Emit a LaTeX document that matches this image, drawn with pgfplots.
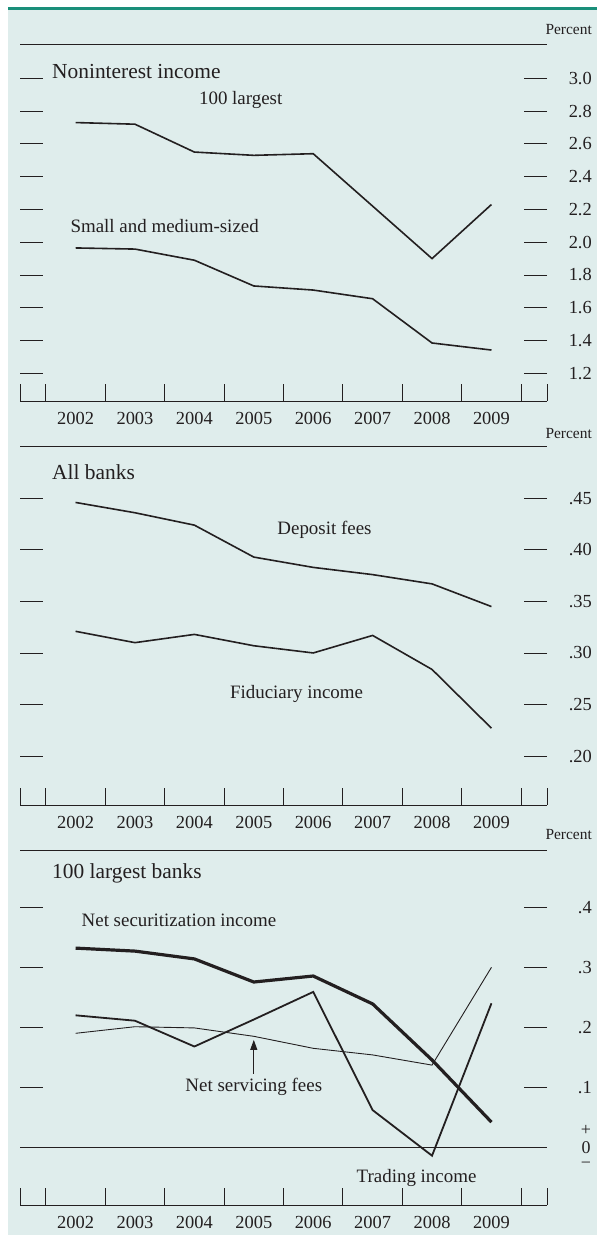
\documentclass[border=0pt]{standalone}
\usepackage{fontspec}
\setmainfont{Liberation Serif}
\usepackage{pgfplots}
\pgfplotsset{compat=1.18}
\usetikzlibrary{arrows.meta}
\definecolor{bgc}{RGB}{223,237,236}
\definecolor{tealc}{RGB}{26,143,122}
\definecolor{ink}{RGB}{35,31,32}

\pgfplotstableread{
x  big   small
0  2.73  1.965
1  2.72  1.958
2  2.55  1.89
3  2.53  1.733
4  2.54  1.708
5  2.22  1.655
6  1.90  1.385
7  2.23  1.342
}\panelA
\pgfplotstableread{
x  deposit fiduc
0  .446   .321
1  .436   .310
2  .424   .318
3  .393   .307
4  .383   .300
5  .376   .317
6  .367   .284
7  .345   .227
}\panelB
\pgfplotstableread{
x  secur  trading servicing
0  .332   .220    .190
1  .327   .211    .201
2  .314   .168    .199
3  .2755  .213    .185
4  .2855  .259    .165
5  .239   .062    .154
6  .1455  -.014   .137
7  .042   .240    .300
}\panelC

\pgfplotsset{panel/.style={
  scale only axis, width=527bp, clip=false,
  xmin=-0.935, xmax=7.935,
  separate axis lines,
  y axis line style={draw=none},
  x axis line style={ink, line width=0.9bp},
  xtick={0,...,7}, xticklabels={2002,2003,2004,2005,2006,2007,2008,2009},
  major x tick style={draw=none},
  minor xtick={-0.935,-0.5,0.5,1.5,2.5,3.5,4.5,5.5,6.5,7.5,7.935},
  minor x tick style={ink, line width=0.9bp},
  xtick pos=bottom,
  major tick length=23bp,
  minor tick length=17.5bp,
  tick align=inside,
  ytick pos=both,
  yticklabel pos=right,
  ytick style={ink, line width=0.9bp},
  yticklabel style={anchor=east, xshift=45bp, inner sep=0pt, text=ink, font=\fontsize{18.5}{20}\selectfont},
  xticklabel style={text=ink, yshift=-8bp, font=\fontsize{18.5}{20}\selectfont},
}}

\begin{document}
\begin{tikzpicture}
\begin{scope}[x=1bp,y=-1bp]
\fill[white] (0,0) rectangle (597,1235);
\fill[bgc] (8,9) rectangle (597,1235);
\fill[tealc] (8,6.5) rectangle (597,9.5);
\end{scope}

% Panel 1
\begin{axis}[panel, at={(20bp,-401bp)}, anchor=south west, height=357bp,
  ymin=1.031, ymax=3.2093,
  ytick={1.2,1.4,1.6,1.8,2.0,2.2,2.4,2.6,2.8,3.0},
  yticklabels={1.2,1.4,1.6,1.8,2.0,2.2,2.4,2.6,2.8,3.0}]
\addplot[ink, line width=1.6bp] table[x=x,y=big] {\panelA};
\addplot[ink, line width=1.6bp] table[x=x,y=small] {\panelA};
\node[font=\fontsize{19}{21}\selectfont, text=ink] at (axis cs:2.78,2.868) {100 largest};
\node[font=\fontsize{19}{21}\selectfont, text=ink] at (axis cs:1.5,2.099) {Small and medium-sized};
\end{axis}

% Panel 2
\begin{axis}[panel, at={(20bp,-805bp)}, anchor=south west, height=359bp,
  ymin=.1525, ymax=.50074,
  ytick={.20,.25,.30,.35,.40,.45},
  yticklabels={.20,.25,.30,.35,.40,.45}]
\addplot[ink, line width=1.6bp] table[x=x,y=deposit] {\panelB};
\addplot[ink, line width=1.6bp] table[x=x,y=fiduc] {\panelB};
\node[font=\fontsize{19}{21}\selectfont, text=ink] at (axis cs:4.19,.419) {Deposit fees};
\node[font=\fontsize{19}{21}\selectfont, text=ink] at (axis cs:3.72,.26) {Fiduciary income};
\end{axis}

% Panel 3
\begin{axis}[panel, at={(20bp,-1205bp)}, anchor=south west, height=355bp,
  ymin=-.0962, ymax=.4955,
  ytick={.1,.2,.3,.4},
  yticklabels={.1,.2,.3,.4}]
\addplot[ink, line width=0.9bp] coordinates {(-0.935,0) (7.935,0)};
\addplot[ink, line width=3.2bp] table[x=x,y=secur] {\panelC};
\addplot[ink, line width=1.8bp] table[x=x,y=trading] {\panelC};
\addplot[ink, line width=0.9bp] table[x=x,y=servicing] {\panelC};
\draw[ink, line width=1bp, -{Triangle[length=10bp,width=7bp]}] (axis cs:3,.123) -- (axis cs:3,.179);
\node[font=\fontsize{19}{21}\selectfont, text=ink] at (axis cs:1.74,.379) {Net securitization income};
\node[font=\fontsize{19}{21}\selectfont, text=ink] at (axis cs:3.0,.10) {Net servicing fees};
\node[font=\fontsize{19}{21}\selectfont, text=ink] at (axis cs:5.74,-.051) {Trading income};
\end{axis}

\begin{scope}[x=1bp,y=-1bp]
\draw[ink, line width=0.9bp] (20,44) -- (547,44);
\tikzset{ttl/.style={anchor=west, inner sep=0pt, text=ink, font=\fontsize{21.5}{24}\selectfont},
         pct/.style={anchor=east, inner sep=0pt, text=ink, font=\fontsize{15.5}{17}\selectfont}}
\node[pct] at (592,30) {Percent};
\node[pct] at (592,434) {Percent};
\node[pct] at (592,835) {Percent};
\node[ttl] at (52,72) {Noninterest income};
\node[ttl] at (52,472) {All banks};
\node[ttl] at (52,873) {100 largest banks};
\node[inner sep=0pt, text=ink, font=\fontsize{18}{20}\selectfont] at (586,1148) {0};
\node[inner sep=0pt, text=ink, font=\fontsize{18}{20}\selectfont] at (586,1130) {+};
\node[inner sep=0pt, text=ink, font=\fontsize{18}{20}\selectfont] at (586,1165) {−};
\end{scope}
\end{tikzpicture}
\end{document}
